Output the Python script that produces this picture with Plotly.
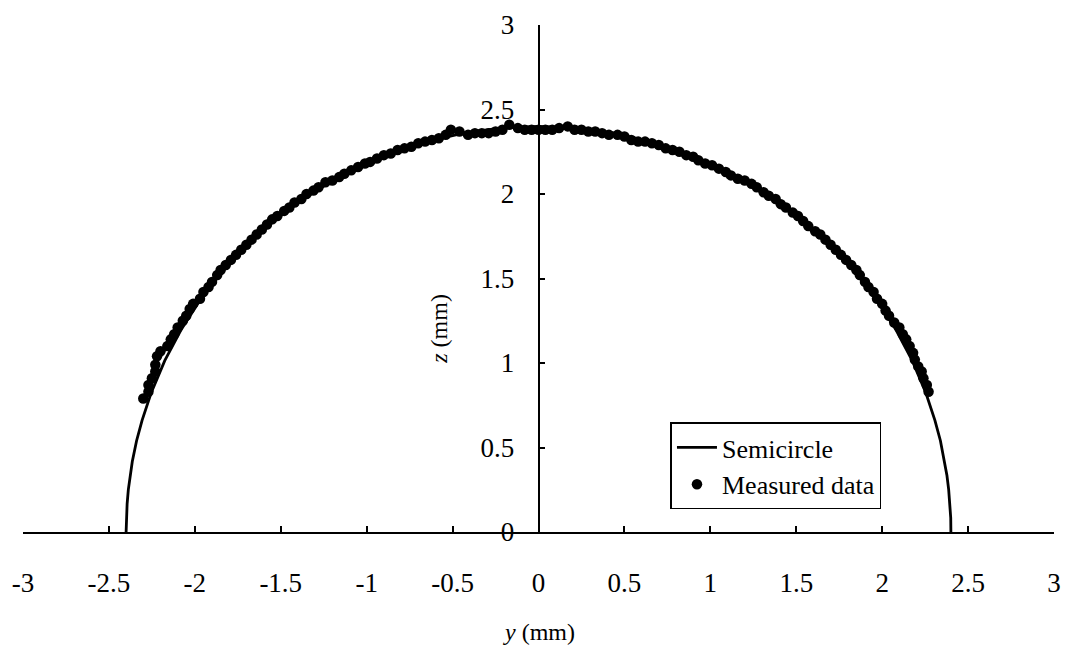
import plotly.graph_objects as go

# Semicircle (radius ~2.4 mm)
semi_y = [-2.400, -2.399, -2.394, -2.387, -2.377, -2.364, -2.339, -2.307, -2.255, -2.175,
          -2.078, -1.966, -1.838, -1.697, -1.543, -1.377, -1.200, -1.014, -0.821, -0.621,
          -0.417, -0.209, 0.000, 0.209, 0.417, 0.621, 0.821, 1.014, 1.200, 1.377,
          1.543, 1.697, 1.838, 1.966, 2.078, 2.175, 2.255, 2.307, 2.339, 2.364,
          2.377, 2.387, 2.394, 2.399, 2.400]
semi_z = [0.000, 0.084, 0.167, 0.251, 0.334, 0.417, 0.540, 0.661, 0.821, 1.014,
          1.200, 1.377, 1.543, 1.697, 1.838, 1.966, 2.078, 2.175, 2.255, 2.318,
          2.364, 2.391, 2.400, 2.391, 2.364, 2.318, 2.255, 2.175, 2.078, 1.966,
          1.838, 1.697, 1.543, 1.377, 1.200, 1.014, 0.821, 0.661, 0.540, 0.417,
          0.334, 0.251, 0.167, 0.084, 0.000]

# Measured profile points (y, z) in mm
meas_y = [-2.30, -2.27, -2.27, -2.25, -2.23, -2.23, -2.22, -2.20, -2.16, -2.14,
          -2.12, -2.10, -2.07, -2.05, -2.03, -2.01, -1.97, -1.95, -1.92, -1.90,
          -1.87, -1.85, -1.82, -1.79, -1.76, -1.73, -1.70, -1.67, -1.64, -1.61,
          -1.58, -1.55, -1.52, -1.48, -1.45, -1.42, -1.38, -1.35, -1.31, -1.28,
          -1.24, -1.20, -1.16, -1.13, -1.09, -1.05, -1.01, -0.98, -0.94, -0.90,
          -0.86, -0.82, -0.78, -0.74, -0.70, -0.66, -0.62, -0.58, -0.54, -0.51,
          -0.46, -0.41, -0.37, -0.33, -0.29, -0.25, -0.21, -0.17, -0.12, -0.08,
          -0.04, 0.00, 0.04, 0.08, 0.12, 0.17, 0.21, 0.25, 0.29, 0.33,
          0.37, 0.41, 0.46, 0.50, 0.54, 0.58, 0.62, 0.66, 0.70, 0.74,
          0.78, 0.82, 0.86, 0.90, 0.93, 0.97, 1.01, 1.05, 1.09, 1.12,
          1.16, 1.20, 1.24, 1.27, 1.31, 1.34, 1.38, 1.41, 1.44, 1.48,
          1.51, 1.54, 1.57, 1.61, 1.64, 1.67, 1.70, 1.73, 1.76, 1.79,
          1.82, 1.85, 1.87, 1.90, 1.92, 1.95, 1.97, 2.00, 2.02, 2.04,
          2.07, 2.10, 2.12, 2.14, 2.16, 2.18, 2.19, 2.21, 2.23, 2.24,
          2.26, 2.27]
meas_z = [0.79, 0.83, 0.87, 0.91, 0.95, 0.99, 1.04, 1.07, 1.10, 1.14,
          1.17, 1.21, 1.25, 1.28, 1.32, 1.35, 1.38, 1.42, 1.45, 1.48,
          1.52, 1.55, 1.58, 1.61, 1.64, 1.67, 1.70, 1.73, 1.76, 1.79,
          1.82, 1.85, 1.87, 1.90, 1.92, 1.95, 1.97, 2.00, 2.02, 2.04,
          2.07, 2.08, 2.10, 2.12, 2.14, 2.16, 2.18, 2.19, 2.21, 2.23,
          2.24, 2.26, 2.27, 2.28, 2.30, 2.31, 2.32, 2.33, 2.35, 2.38,
          2.37, 2.35, 2.36, 2.36, 2.36, 2.37, 2.38, 2.41, 2.39, 2.38,
          2.38, 2.38, 2.38, 2.38, 2.39, 2.40, 2.38, 2.38, 2.37, 2.37,
          2.36, 2.35, 2.35, 2.34, 2.32, 2.31, 2.31, 2.30, 2.29, 2.27,
          2.26, 2.25, 2.23, 2.22, 2.20, 2.18, 2.17, 2.15, 2.13, 2.11,
          2.09, 2.08, 2.06, 2.04, 2.01, 1.99, 1.97, 1.94, 1.92, 1.89,
          1.87, 1.84, 1.81, 1.78, 1.76, 1.73, 1.70, 1.67, 1.64, 1.61,
          1.58, 1.55, 1.52, 1.48, 1.45, 1.42, 1.38, 1.35, 1.31, 1.28,
          1.24, 1.21, 1.17, 1.14, 1.10, 1.06, 1.02, 0.98, 0.95, 0.91,
          0.87, 0.83]

x_ticks = [-3, -2.5, -2, -1.5, -1, -0.5, 0, 0.5, 1, 1.5, 2, 2.5, 3]
x_tick_labels = ["-3", "-2.5", "-2", "-1.5", "-1", "-0.5", "0", "0.5", "1", "1.5", "2", "2.5", "3"]
z_ticks = [0, 0.5, 1, 1.5, 2, 2.5, 3]
z_tick_labels = ["0", "0.5", "1", "1.5", "2", "2.5", "3"]

FONT = "Liberation Serif, Times New Roman, serif"

fig = go.Figure()
fig.add_trace(go.Scatter(x=semi_y, y=semi_z, mode="lines", name="Semicircle",
                         line=dict(color="black", width=2.8)))
fig.add_trace(go.Scatter(x=meas_y, y=meas_z, mode="markers", name="Measured data",
                         marker=dict(color="black", size=10.5, line=dict(width=0))))

fig.update_layout(
    width=1071, height=645,
    margin=dict(l=23, r=10, t=22, b=113),
    paper_bgcolor="white", plot_bgcolor="white",
    font=dict(family=FONT, size=27, color="black"),
    showlegend=True,
    legend=dict(x=0.628, y=0.216, xanchor="left", yanchor="top",
                bordercolor="black", borderwidth=1.5, bgcolor="white",
                font=dict(family=FONT, size=26, color="black"),
                tracegroupgap=0, itemwidth=40),
    xaxis=dict(range=[-3, 3], tickvals=x_ticks, ticktext=x_tick_labels,
               showgrid=False, zeroline=False, showline=True, linecolor="black",
               linewidth=1.5, ticks="inside", ticklen=6, tickwidth=1.5, tickcolor="black",
               ticklabelstandoff=26, tickfont=dict(family=FONT, size=27, color="black")),
    yaxis=dict(range=[0, 3], tickvals=z_ticks, ticktext=z_tick_labels,
               anchor="free", position=0.5, side="left",
               showgrid=False, zeroline=False, showline=True, linecolor="black",
               linewidth=1.5, ticks="inside", ticklen=6, tickwidth=1.5, tickcolor="black",
               ticklabelstandoff=18, tickfont=dict(family=FONT, size=27, color="black")),
    annotations=[
        dict(text="<i>y</i> (mm)", xref="paper", yref="paper", x=0.5, y=-0.198,
             xanchor="center", yanchor="middle", showarrow=False,
             font=dict(family=FONT, size=24, color="black")),
        dict(text="<i>z</i> (mm)", xref="paper", yref="paper", x=0.404, y=0.4,
             xanchor="center", yanchor="middle", showarrow=False, textangle=-90,
             font=dict(family=FONT, size=24, color="black")),
    ],
)

fig.write_html("out.html")
